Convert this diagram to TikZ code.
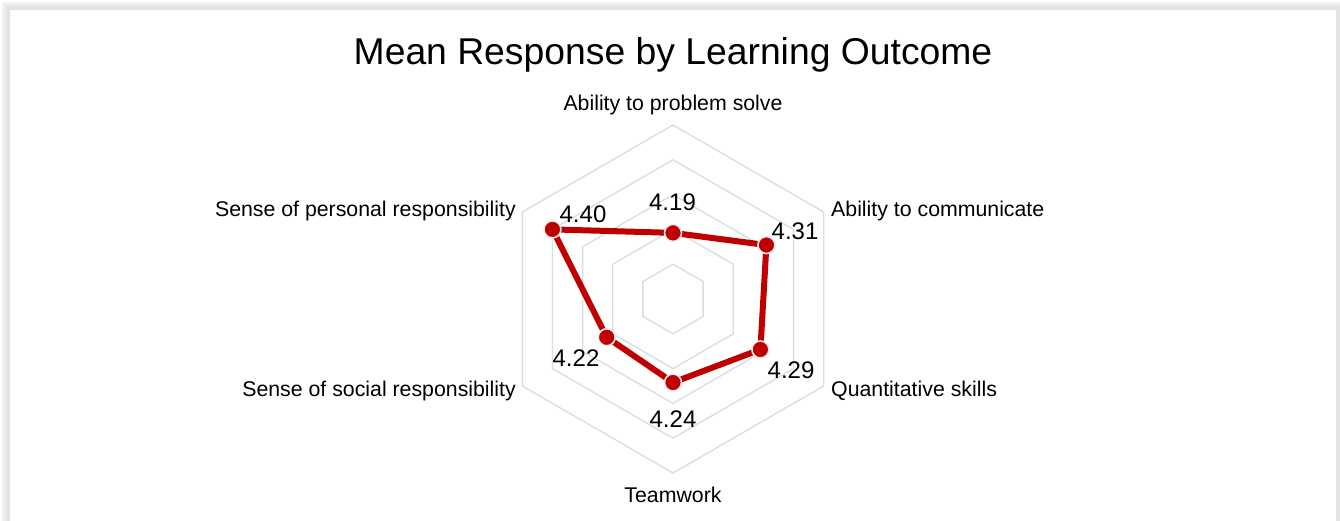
\documentclass[tikz,border=0pt]{standalone}
\usepackage{fontspec}
\setmainfont{Liberation Sans}
\begin{document}
\begin{tikzpicture}[x=1pt,y=1pt,
  gridline/.style={draw=gridc,line width=1.4pt},
  series/.style={draw=serred,line width=6pt,line join=round},
  marker/.style={circle,fill=serred,draw=markb,line width=1.6pt,minimum size=17pt,inner sep=0pt},
  catlabel/.style={font=\fontsize{21.3}{24}\selectfont,inner sep=0pt},
  vallabel/.style={font=\fontsize{24}{27}\selectfont,inner sep=0pt},
  titlestyle/.style={font=\fontsize{37.3}{42}\selectfont,inner sep=0pt}]
\definecolor{gridc}{HTML}{D9DDE6}
\definecolor{serred}{HTML}{C00000}
\definecolor{markb}{HTML}{EEEEEE}
\useasboundingbox (0,0) rectangle (1340,521);
% frame with shadow
\fill[gray!10] (2,0) rectangle (1340,519);
\fill[gray!16] (4,0) rectangle (1340,517);
\fill[gray!22] (6,0) rectangle (1340,515);
\fill[white] (10,0) rectangle (1336,511);
% title
\node[titlestyle] (title) at (673,466) {Mean Response by Learning Outcome};
% grid
\begin{scope}[shift={(673,222)}]
\foreach \r in {34.8,69.6,104.4,139.2,174}{
  \draw[gridline] (90:\r) -- (30:\r) -- (-30:\r) -- (-90:\r) -- (-150:\r) -- (150:\r) -- cycle;
}
% data points (scale 4.0 -> 0, 4.5 -> 174)
\coordinate (p1) at (90:{(4.19-4.0)/0.5*174});
\coordinate (p2) at (30:{(4.31-4.0)/0.5*174});
\coordinate (p3) at (-30:{(4.29-4.0)/0.5*174});
\coordinate (p4) at (-90:{(4.24-4.0)/0.5*174});
\coordinate (p5) at (-150:{(4.22-4.0)/0.5*174});
\coordinate (p6) at (150:{(4.40-4.0)/0.5*174});
\end{scope}
\draw[series] (p1) -- (p2) -- (p3) -- (p4) -- (p5) -- (p6) -- cycle;
\foreach \p in {p1,p2,p3,p4,p5,p6}{
  \node[marker] (m\p) at (\p) {};
}
% value labels
\node[vallabel] (v1) at (672.5,319) {4.19};
\node[vallabel] (v2) at (795,290) {4.31};
\node[vallabel] (v3) at (791,151) {4.29};
\node[vallabel] (v4) at (673,102) {4.24};
\node[vallabel] (v5) at (576,163) {4.22};
\node[vallabel] (v6) at (583,307) {4.40};
% category labels
\node[catlabel] (c1) at (673,416) {Ability to problem solve};
\node[catlabel,anchor=west] (c2) at (831,310) {Ability to communicate};
\node[catlabel,anchor=west] (c3) at (831,130) {Quantitative skills};
\node[catlabel] (c4) at (673,26) {Teamwork};
\node[catlabel,anchor=east] (c5) at (516,130) {Sense of social responsibility};
\node[catlabel,anchor=east] (c6) at (516,310) {Sense of personal responsibility};
\end{tikzpicture}
\end{document}
